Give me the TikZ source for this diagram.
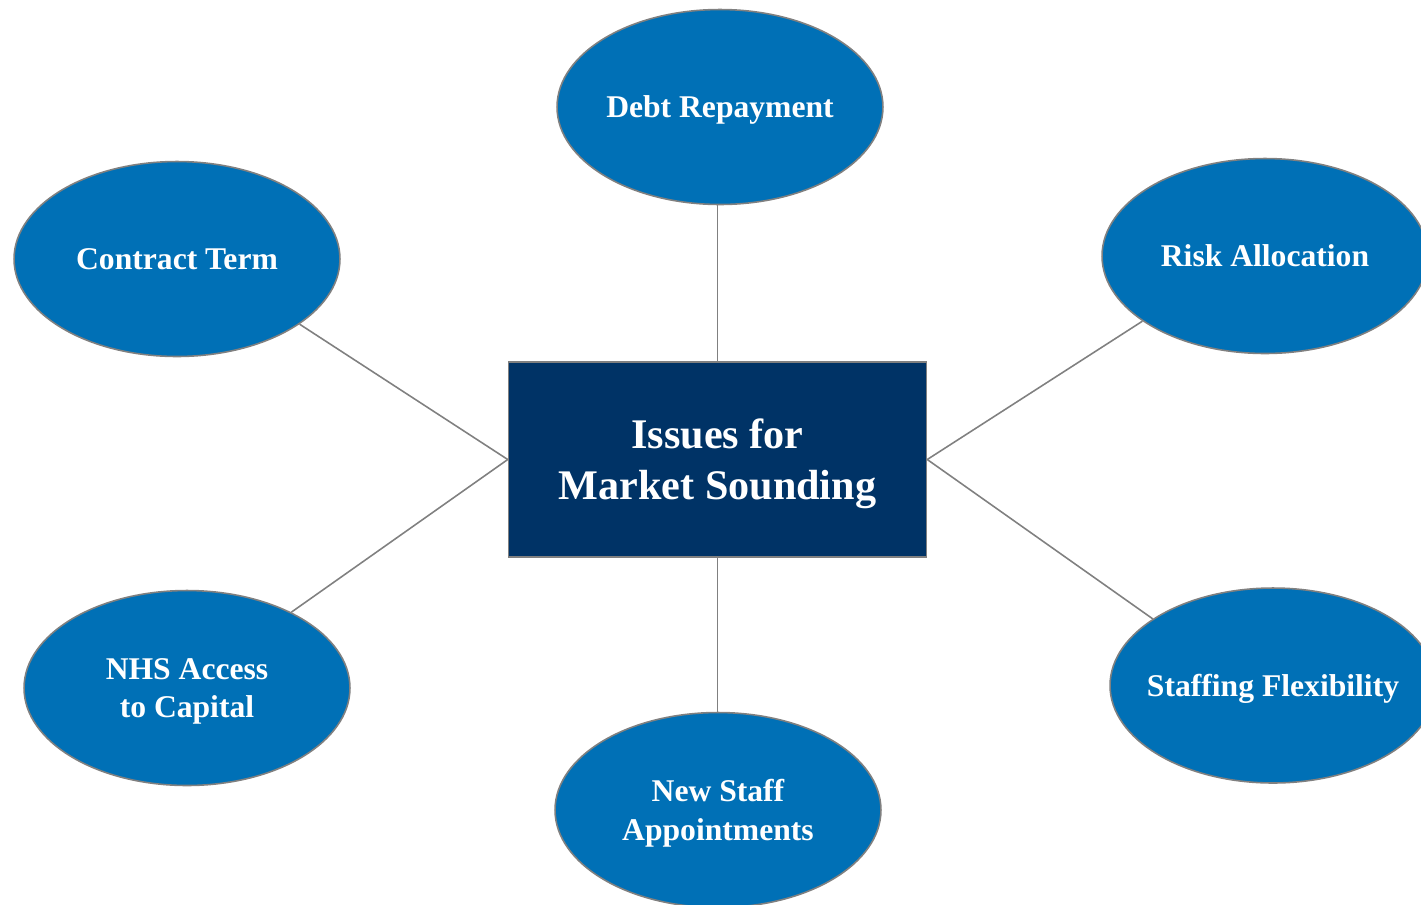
\documentclass[tikz,border=0pt]{standalone}
\usepackage{fontspec}
\setmainfont{Liberation Serif}
\usetikzlibrary{shapes.geometric,positioning}

\definecolor{navy}{HTML}{003366}
\definecolor{issueblue}{HTML}{0070B6}
\definecolor{rimgray}{HTML}{808080}

\begin{document}
\begin{tikzpicture}[x=0.02cm, y=-0.02cm,
  issue/.style={ellipse, draw=rimgray, line width=0.9pt, fill=issueblue, text=white,
    minimum width=6.52cm, minimum height=3.9cm, inner sep=0pt, align=center,
    text depth=0pt, font=\fontsize{18}{22}\selectfont\bfseries},
  hub/.style={rectangle, draw=rimgray, line width=0.9pt, fill=navy, text=white,
    minimum width=8.36cm, minimum height=3.9cm, align=center,
    text depth=0pt, font=\fontsize{24}{29}\selectfont\bfseries},
  link/.style={draw=rimgray, line width=0.9pt}]
\useasboundingbox (0,0) rectangle (1421,904);

% centre box
\node[hub] (hub) at (717.5,459.5) {Issues for\\Market Sounding};

% issues round it
\node[issue] (debt) at (720,107) {Debt Repayment};
\node[issue] (term) at (177,259) {Contract Term};
\node[issue] (risk) at (1265,256) {Risk Allocation};
\node[issue] (nhs) at (187,688) {NHS Access\\to Capital};
\node[issue] (staff) at (718,810) {New Staff\\Appointments};
\node[issue, inner xsep=-0.3cm] (flex) at (1273,685.5) {Staffing Flexibility};

% spokes
\draw[link] (hub.north) -- (hub.north |- debt.south);
\draw[link] (hub.south) -- (hub.south |- staff.north);
\draw[link] (hub.west) -- (term.-28);
\draw[link] (hub.west) -- (nhs.36);
\draw[link] (hub.east) -- (risk.-152);
\draw[link] (hub.east) -- (flex.151);
\end{tikzpicture}
\end{document}
